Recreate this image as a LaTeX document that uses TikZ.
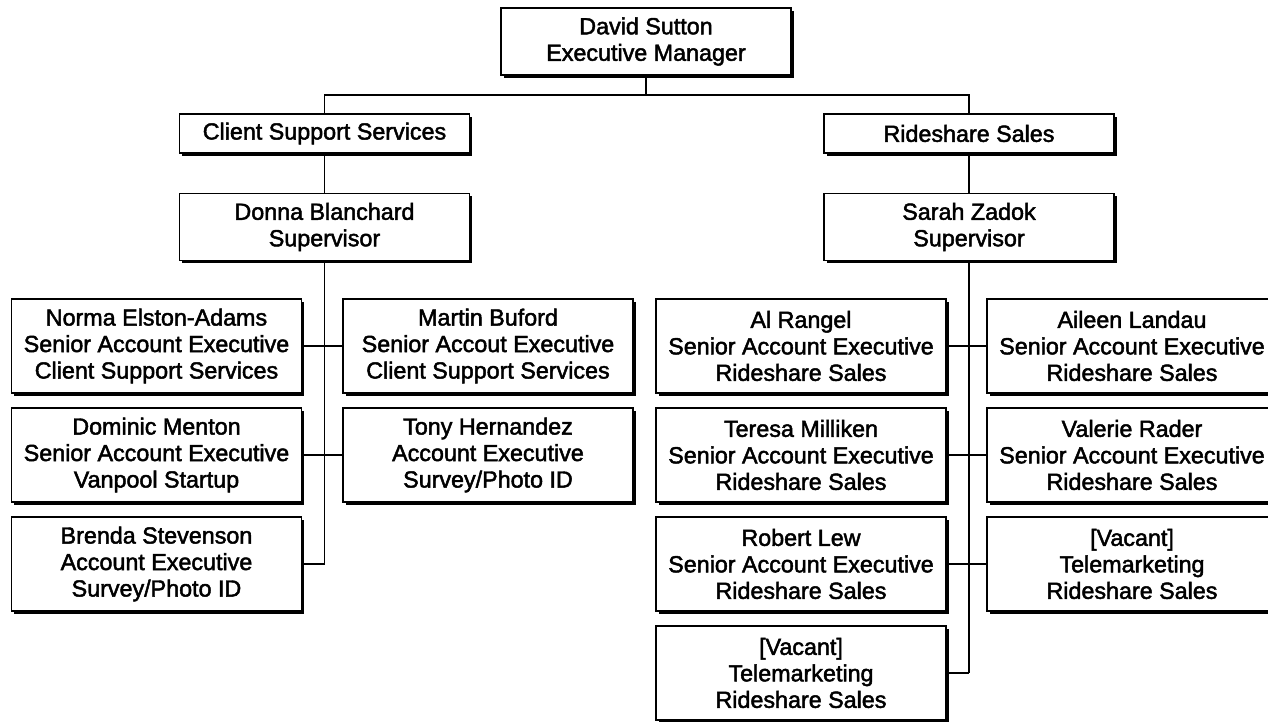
\documentclass[tikz,border=0pt]{standalone}
\usepackage{fontspec}
\setmainfont{Liberation Sans}
\newfontfamily\boxfont[FakeBold=2]{Liberation Sans}
\usetikzlibrary{shadows}
\begin{document}
\begin{tikzpicture}[x=1pt,y=-1pt,
  box/.style={draw=black, line width=1.5pt, fill=white, inner sep=0pt,
    minimum width=290pt, align=center,
    font=\boxfont\fontsize{23.3}{26.5}\selectfont,
    drop shadow={shadow xshift=2.5pt, shadow yshift=-2.5pt, fill=black, opacity=1}},
  big/.style={box, minimum height=67pt},
  small/.style={box, minimum height=39pt},
  staff/.style={box, minimum height=94pt},
  link/.style={line width=1.5pt}]
\useasboundingbox (0,0) rectangle (1268,721);
\clip (0,0) rectangle (1268,721);
% top
\node[big] (david) at (646,41.5) {David Sutton\\Executive Manager};
\node[small] (css) at (324.5,133.5) {Client Support Services};
\node[small] (rs) at (969,133.5) {Rideshare Sales};
\node[big] (donna) at (324.5,227) {Donna Blanchard\\Supervisor};
\node[big] (sarah) at (969,227) {Sarah Zadok\\Supervisor};
% left group
\node[staff] (norma) at (156.5,346) {Norma Elston-Adams\\Senior Account Executive\\Client Support Services};
\node[staff] (martin) at (488,346) {Martin Buford\\Senior Accout Executive\\Client Support Services};
\node[staff] (dominic) at (156.5,455) {Dominic Menton\\Senior Account Executive\\Vanpool Startup};
\node[staff] (tony) at (488,455) {Tony Hernandez\\Account Executive\\Survey/Photo ID};
\node[staff] (brenda) at (156.5,564) {Brenda Stevenson\\Account Executive\\Survey/Photo ID};
% right group
\node[staff] (al) at (801,346) {Al Rangel\\Senior Account Executive\\Rideshare Sales};
\node[staff] (aileen) at (1132,346) {Aileen Landau\\Senior Account Executive\\Rideshare Sales};
\node[staff] (teresa) at (801,455) {Teresa Milliken\\Senior Account Executive\\Rideshare Sales};
\node[staff] (valerie) at (1132,455) {Valerie Rader\\Senior Account Executive\\Rideshare Sales};
\node[staff] (robert) at (801,564) {Robert Lew\\Senior Account Executive\\Rideshare Sales};
\node[staff] (vacb) at (1132,564) {[Vacant]\\Telemarketing\\Rideshare Sales};
\node[staff] (vaca) at (801,673) {[Vacant]\\Telemarketing\\Rideshare Sales};
% connectors
\coordinate (bus) at (646,95);
\draw[link] (david.south) -- (bus);
\draw[link] (css.north) -- (css.north |- bus) -- (rs.north |- bus) -- (rs.north);
\draw[link] (css.south) -- (donna.north);
\draw[link] (rs.south) -- (sarah.north);
\draw[link] (donna.south) -- (donna.south |- brenda.east);
\draw[link] (norma.east) -- (martin.west);
\draw[link] (dominic.east) -- (tony.west);
\draw[link] (brenda.east) -- (brenda.east -| donna.south);
\draw[link] (sarah.south) -- (sarah.south |- vaca.east);
\draw[link] (al.east) -- (aileen.west);
\draw[link] (teresa.east) -- (valerie.west);
\draw[link] (robert.east) -- (vacb.west);
\draw[link] (vaca.east) -- (vaca.east -| sarah.south);
\end{tikzpicture}
\end{document}
